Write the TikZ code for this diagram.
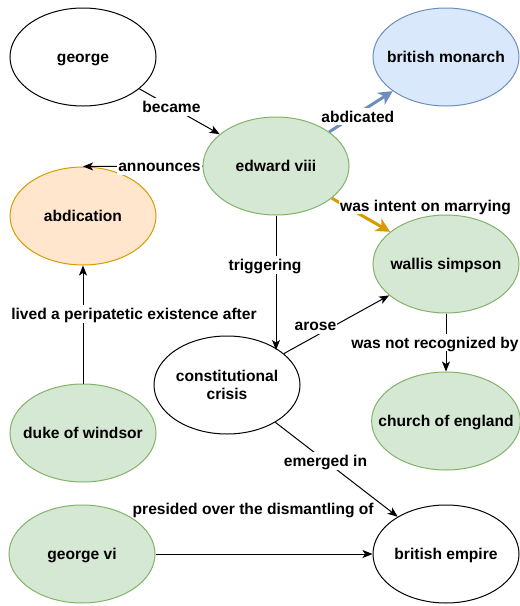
\documentclass[tikz,border=0pt]{standalone}
\usepackage{fontspec}
\setmainfont{Liberation Sans}
\usetikzlibrary{shapes.geometric,arrows.meta}
\definecolor{greenfill}{HTML}{D5E8D4}
\definecolor{greenline}{HTML}{82B366}
\definecolor{bluefill}{HTML}{DAE8FC}
\definecolor{blueline}{HTML}{6C8EBF}
\definecolor{orangefill}{HTML}{FFE6CC}
\definecolor{orangeline}{HTML}{D79B00}
\begin{document}
\begin{tikzpicture}[x=1pt,y=-1pt,font=\fontsize{15.6}{18.5}\selectfont\bfseries,
  concept/.style={ellipse,draw,line width=1pt,minimum width=146pt,minimum height=98pt,
    inner xsep=-15pt,inner ysep=0pt,align=center,text height=14.5pt,text depth=3.3pt},
  greennode/.style={concept,draw=greenline,fill=greenfill},
  bluenode/.style={concept,draw=blueline,fill=bluefill},
  orangenode/.style={concept,draw=orangeline,fill=orangefill},
  lbl/.style={fill=white,inner xsep=1pt,inner ysep=0pt,text height=14.5pt,text depth=3.3pt},
  link/.style={-{Stealth[length=10pt,width=8pt,inset=2.5pt]},line width=1pt},
  boldlink/.style={-{Stealth[length=14pt,width=14pt,inset=4pt]},line width=3pt}]
  \useasboundingbox (0,0) rectangle (520,606);
  \node[concept] (george) at (83,57) {george};
  \node[bluenode] (monarch) at (446,57) {british monarch};
  \node[greennode] (edward) at (276,166) {edward viii};
  \node[orangenode] (abdication) at (83,216) {abdication};
  \node[greennode] (wallis) at (446,264) {wallis simpson};
  \node[concept,text height={},text depth={}] (crisis) at (227,385) {constitutional\\crisis};
  \node[greennode] (duke) at (83,433) {duke of windsor};
  \node[greennode] (church) at (446,421) {church of england};
  \node[greennode] (georgevi) at (82,554) {george vi};
  \node[concept] (empire) at (446,554) {british empire};

  \draw[link] (george) -- node[lbl,pos=0.4]{became} (edward);
  \draw[link] (edward.west) -- node[lbl,pos=0.36]{announces} (abdication.north);
  \draw[boldlink,blueline] (edward) -- node[lbl,pos=0.45,yshift=-3pt,text=black]{abdicated} (monarch);
  \draw[boldlink,orangeline] (edward) -- node[lbl,pos=0.1,anchor=west,yshift=-4pt,text=black]{was intent on marrying} (wallis);
  \draw[link] (edward.south) -- node[lbl,pos=0.37,xshift=-11pt]{triggering} (edward.south |- crisis.north east);
  \draw[link] (crisis) -- node[lbl,pos=0.3,yshift=11pt]{arose} (wallis);
  \draw[link] (wallis) -- node[lbl,xshift=-11pt]{was not recognized by} (church);
  \draw[link] (duke) -- node[lbl,pos=0.59,xshift=51pt]{lived a peripatetic existence after} (abdication);
  \draw[link] (georgevi) -- node[lbl,pos=0.45,yshift=45pt]{presided over the dismantling of} (empire);
  \draw[link] (crisis) -- node[lbl,pos=0.41]{emerged in} (empire);
\end{tikzpicture}
\end{document}
